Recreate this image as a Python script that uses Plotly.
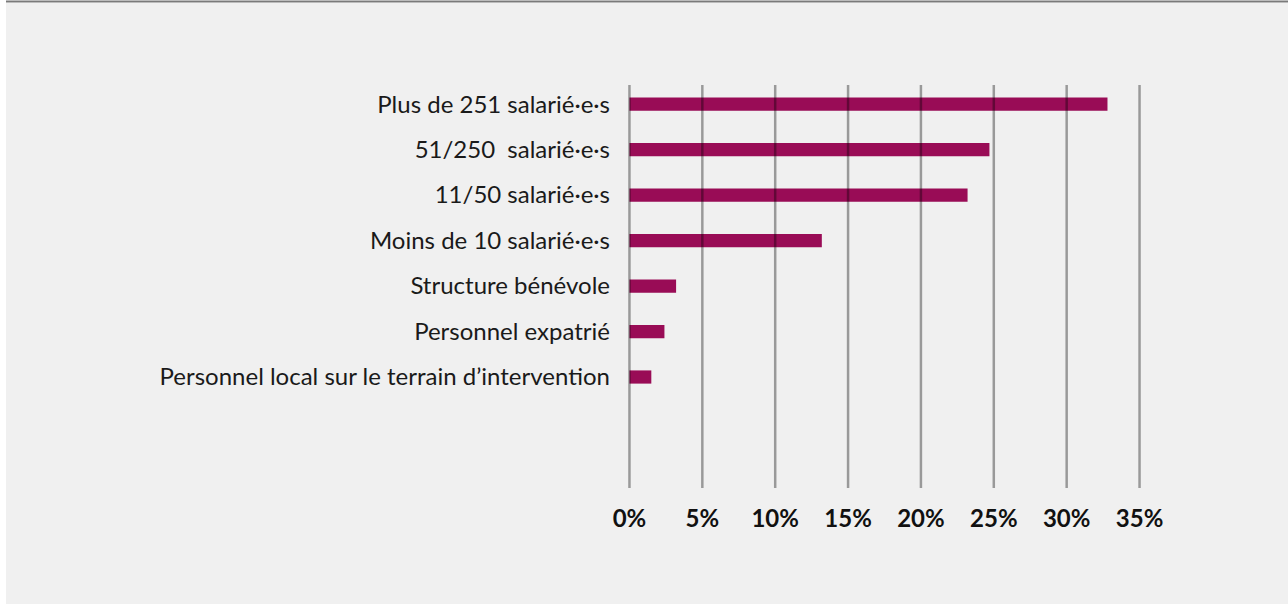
import plotly.graph_objects as go

categories = [
    "Plus de 251 salarié·e·s",
    "51/250  salarié·e·s",
    "11/50 salarié·e·s",
    "Moins de 10 salarié·e·s",
    "Structure bénévole",
    "Personnel expatrié",
    "Personnel local sur le terrain d’intervention",
]
values = [32.8, 24.7, 23.2, 13.2, 3.2, 2.4, 1.5]
tick_vals = [0, 5, 10, 15, 20, 25, 30, 35]
tick_text = ["0%", "5%", "10%", "15%", "20%", "25%", "30%", "35%"]

W, H = 1288, 604
L, R, T, B = 628, 147, 85, 116
PW, PH = W - L - R, H - T - B


def px(x):
    return (x - L) / PW


def py(y):
    return 1 - (y - T) / PH


fig = go.Figure()
fig.add_trace(go.Bar(
    x=values, y=categories, orientation="h",
    marker=dict(color="#990c56", line=dict(width=0)),
    width=0.29, hoverinfo="x+y",
))

shapes = [
    dict(type="rect", xref="paper", yref="paper", x0=px(6), x1=px(W + 2),
         y0=py(3), y1=py(H + 2), fillcolor="#f0f0f0", line=dict(width=0), layer="below"),
    dict(type="line", xref="paper", yref="paper", x0=px(6), x1=px(W + 2),
         y0=py(1.6), y1=py(1.6), line=dict(color="#7a7a7a", width=2), layer="below"),
]
for v in tick_vals:
    shapes.append(dict(type="line", xref="x", yref="paper", x0=v, x1=v, y0=0, y1=1,
                       line=dict(color="rgba(0,0,0,0.36)", width=2.5), layer="above"))

fig.update_layout(
    width=W, height=H,
    margin=dict(l=L, r=R, t=T, b=B, pad=0),
    paper_bgcolor="white", plot_bgcolor="rgba(0,0,0,0)",
    showlegend=False,
    shapes=shapes,
    xaxis=dict(range=[-0.1, 35.1], tickvals=tick_vals, ticktext=tick_text,
               showgrid=False, zeroline=False, showline=False, ticks="",
               tickfont=dict(family="Lato", size=24, color="#111111", weight="bold"),
               ticklabelstandoff=14, fixedrange=True),
    yaxis=dict(type="category", categoryorder="array", categoryarray=categories,
               range=[8.44, -0.42], showgrid=False, zeroline=False, showline=False,
               ticks="", tickfont=dict(family="Lato", size=24, color="#1a1a1a"),
               ticklabelstandoff=17, fixedrange=True),
)

fig.write_html(
    "out.html",
    config={"displayModeBar": False},
    post_script="document.body.style.margin='0';document.body.style.overflow='hidden';",
)
